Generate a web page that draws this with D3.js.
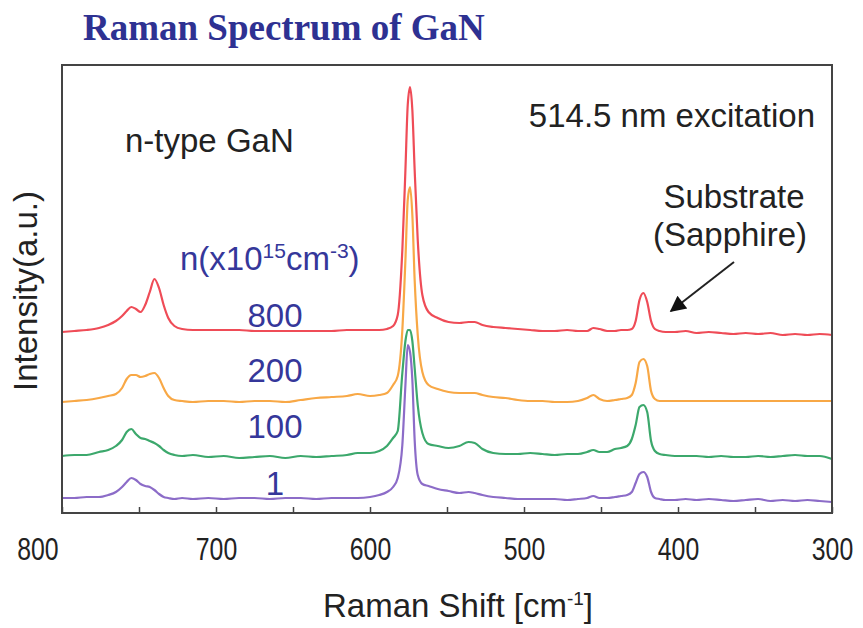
<!DOCTYPE html>
<head>
  <meta charset="utf-8">
  <script src="https://d3js.org/d3.v7.min.js"></script>
  <style>
    body { margin:0; background:#fff; }
    svg { display:block; }
    text { font-family: "Liberation Sans", Arial, sans-serif; }
  </style>
</head>

<body>
  <svg width="863" height="628"></svg>
  <script>
    // Raman shift (cm-1), shared by all spectra
    var shift = [800, 792, 784, 776, 770, 765, 761, 758, 755, 752, 749, 746, 743, 740, 737, 734, 731, 727, 722, 715,
      705, 695, 685, 675, 665, 655, 645, 635, 625, 615, 608, 600, 594, 589, 585, 582, 579, 577, 575.5, 574,
      572.5, 571, 569, 566, 562, 556, 549, 542, 536, 532, 527, 520, 512, 504, 496, 488, 480, 472, 465, 459,
      455, 451, 446, 441, 437, 433, 430, 427.5, 425, 422.5, 420, 417.5, 415, 412, 408, 402, 395, 388, 380, 372,
      364, 356, 348, 340, 332, 324, 316, 308, 300];

    // intensity (a.u., curves already offset)
    var n800 = [181, 182, 183, 185, 188, 192, 197, 202, 206, 204, 201, 208, 221, 234, 225, 208, 195, 187, 184, 183,
      183, 183, 183, 182, 182, 182, 182, 182, 182, 183, 183, 183, 183, 184, 187, 198, 263, 343, 408, 426,
      403, 343, 273, 218, 201, 195, 191, 190, 191, 191, 188, 186, 185, 184, 183, 182, 182, 183, 182, 182,
      185, 184, 182, 182, 183, 183, 184, 192, 213, 220, 211, 192, 184, 182, 181, 181, 182, 180, 181, 180,
      179, 180, 179, 180, 178, 179, 178, 179, 178];
    var n200 = [111, 112, 113, 115, 117, 119, 125, 134, 138, 138, 136, 137, 139, 140, 135, 125, 117, 113, 112, 111,
      112, 112, 111, 112, 112, 111, 113, 115, 116, 117, 119, 117, 118, 120, 128, 137, 183, 253, 313, 326,
      298, 233, 178, 141, 128, 124, 121, 120, 120, 120, 118, 116, 115, 113, 112, 112, 111, 111, 112, 115,
      118, 114, 112, 113, 114, 115, 118, 130, 151, 154, 147, 122, 114, 112, 112, 112, 112, 112, 112, 112,
      112, 112, 112, 112, 112, 112, 112, 112, 112];
    var n100 = [57, 58, 58, 61, 63, 67, 73, 81, 84, 79, 75, 74, 72, 70, 67, 63, 60, 58, 57, 58,
      56, 57, 55, 56, 57, 55, 57, 56, 57, 58, 60, 60, 62, 67, 75, 82, 140, 172, 183, 183,
      172, 145, 108, 80, 69, 67, 65, 67, 71, 70, 64, 60, 59, 59, 60, 59, 58, 59, 59, 61,
      63, 61, 61, 64, 65, 67, 74, 88, 106, 108, 101, 72, 62, 59, 58, 57, 57, 57, 56, 57,
      56, 56, 57, 56, 57, 58, 57, 57, 54];
    var n1 = [15, 15, 16, 16, 18, 21, 26, 31, 35, 33, 29, 27, 26, 23, 19, 16, 15, 14, 15, 14,
      15, 14, 15, 15, 14, 15, 15, 14, 15, 15, 15, 16, 18, 21, 26, 35, 68, 128, 168, 161,
      133, 73, 38, 29, 27, 24, 22, 20, 21, 20, 18, 16, 15, 14, 14, 14, 14, 13, 14, 15,
      17, 15, 15, 16, 17, 18, 21, 30, 39, 41, 36, 21, 15, 14, 13, 13, 14, 13, 14, 13,
      12, 13, 14, 12, 13, 12, 13, 12, 11];

    var seriesNames = ['800', '200', '100', '1'];
    var seriesColors = ['#ef4c57', '#f8a846', '#3ca86c', '#8c6cc8'];
    var xTickValues = [800, 750, 700, 650, 600, 550, 500, 450, 400, 350, 300];

    var margin = {top: 65, right: 31, bottom: 115, left: 62};
    var width = 863, height = 628;
    var svg = d3.select('svg');

    var x = d3.scaleLinear().domain([800, 300]).range([margin.left, width - margin.right]);
    var y = d3.scaleLinear().domain([0, 448]).range([height - margin.bottom, margin.top]);

    var series = [n800, n200, n100, n1];

    var line = d3.line()
      .x(function(d, i) { return x(shift[i]); })
      .y(function(d) { return y(d); })
      .curve(d3.curveMonotoneX);

    svg.selectAll('path.spec')
      .data(series)
      .enter().append('path')
      .attr('class', 'spec')
      .attr('d', line)
      .attr('fill', 'none')
      .attr('stroke', function(d, i) { return seriesColors[i]; })
      .attr('stroke-width', 2.2)
      .attr('stroke-linejoin', 'round');

    // frame
    svg.append('rect')
      .attr('x', margin.left).attr('y', margin.top)
      .attr('width', width - margin.right - margin.left)
      .attr('height', height - margin.bottom - margin.top)
      .attr('fill', 'none').attr('stroke', '#444').attr('stroke-width', 2);

    // bottom axis, ticks pointing inward
    var xAxis = d3.axisBottom(x)
      .tickValues(xTickValues)
      .tickSizeInner(-6).tickSizeOuter(0)
      .tickFormat(function(d) { return d % 100 === 0 ? d : ''; });

    var gx = svg.append('g')
      .attr('transform', 'translate(0,' + (height - margin.bottom) + ')')
      .call(xAxis);
    gx.select('.domain').remove();
    gx.selectAll('line').attr('stroke', '#444').attr('stroke-width', 1.5);
    // labels are a condensed face in the original
    gx.selectAll('text')
      .attr('y', 47).attr('dy', 0)
      .attr('fill', '#222')
      .style('font-size', '31px')
      .attr('transform', 'scale(0.8,1)')
      .attr('text-anchor', function(d) { return d === 800 ? 'end' : 'middle'; })
      .attr('dx', function(d) { return d === 800 ? -5 : 0; });

    // title
    svg.append('text')
      .attr('x', 83).attr('y', 40)
      .style('font-family', '"Liberation Serif", "Times New Roman", serif')
      .style('font-weight', 'bold')
      .style('font-size', '37px')
      .attr('fill', '#2e3192')
      .text('Raman Spectrum of GaN');

    // axis titles
    var xl = svg.append('text')
      .attr('x', 458).attr('y', 617)
      .attr('text-anchor', 'middle')
      .style('font-size', '33px').attr('fill', '#222');
    xl.append('tspan').text('Raman Shift [cm');
    xl.append('tspan').attr('dy', -12).style('font-size', '19px').text('-1');
    xl.append('tspan').attr('dy', 12).text(']');

    svg.append('text')
      .attr('transform', 'translate(37,291) rotate(-90)')
      .attr('text-anchor', 'middle')
      .style('font-size', '33px').attr('fill', '#222')
      .text('Intensity(a.u.)');

    // annotations
    svg.append('text')
      .attr('x', 815).attr('y', 127)
      .attr('text-anchor', 'end')
      .style('font-size', '33px').attr('fill', '#222')
      .text('514.5 nm excitation');

    svg.append('text')
      .attr('x', 125).attr('y', 152)
      .style('font-size', '33px').attr('fill', '#222')
      .text('n-type GaN');

    svg.append('text')
      .attr('x', 734).attr('y', 208)
      .attr('text-anchor', 'middle')
      .style('font-size', '33px').attr('fill', '#222')
      .text('Substrate');
    svg.append('text')
      .attr('x', 730).attr('y', 246)
      .attr('text-anchor', 'middle')
      .style('font-size', '33px').attr('fill', '#222')
      .text('(Sapphire)');

    // arrow to the sapphire peak
    svg.append('defs').append('marker')
      .attr('id', 'head')
      .attr('viewBox', '0 0 10 10')
      .attr('refX', 9).attr('refY', 5)
      .attr('markerWidth', 22).attr('markerHeight', 16)
      .attr('markerUnits', 'userSpaceOnUse')
      .attr('orient', 'auto')
      .append('path').attr('d', 'M0,0 L10,5 L0,10 Z').attr('fill', '#111');

    svg.append('line')
      .attr('x1', 734).attr('y1', 262)
      .attr('x2', 671).attr('y2', 311)
      .attr('stroke', '#222').attr('stroke-width', 2)
      .attr('marker-end', 'url(#head)');

    var nl = svg.append('text')
      .attr('x', 180).attr('y', 270)
      .style('font-size', '33px').attr('fill', '#35379a');
    nl.append('tspan').text('n(x10');
    nl.append('tspan').attr('dy', -12).style('font-size', '21px').text('15');
    nl.append('tspan').attr('dy', 12).text('cm');
    nl.append('tspan').attr('dy', -12).style('font-size', '21px').text('-3');
    nl.append('tspan').attr('dy', 12).text(')');

    // concentration labels beside each curve
    var labelBase = [327, 382, 438, 495];
    svg.selectAll('text.conc')
      .data(seriesNames)
      .enter().append('text')
      .attr('class', 'conc')
      .attr('x', 275)
      .attr('y', function(d, i) { return labelBase[i]; })
      .attr('text-anchor', 'middle')
      .style('font-size', '33px')
      .attr('fill', '#35379a')
      .text(function(d) { return d; });
  </script>
</body>
